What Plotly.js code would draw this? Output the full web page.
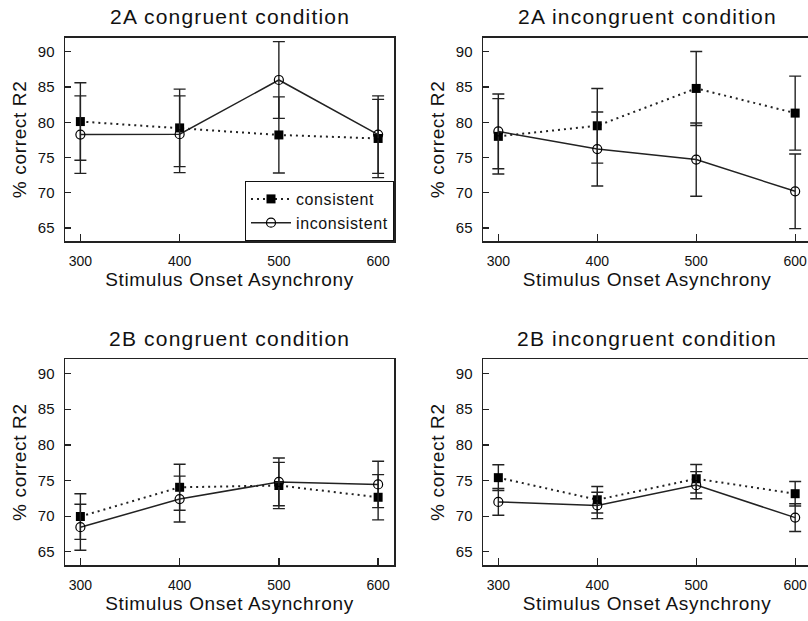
<!DOCTYPE html>
<html>
<head>
<meta charset="utf-8">
<script src="https://cdn.plot.ly/plotly-3.0.1.min.js"></script>
<style>
  html, body { margin: 0; padding: 0; overflow: hidden; background: #fff; }
  #chart { width: 830px; height: 621px; }
  .annotation-text { letter-spacing: 1.2px; }
  text[class$="title"] { letter-spacing: 0.65px; }
  .legendtext { letter-spacing: 0.6px; }
</style>
</head>
<body>
<div id="chart"></div>
<script>
// ---- data ----
const soa = [300, 400, 500, 600];
const xTicks = [300, 400, 500, 600];
const yTicks = [65, 70, 75, 80, 85, 90];

const panelTitles = ["2A congruent condition", "2A incongruent condition",
                     "2B congruent condition", "2B incongruent condition"];
const seriesNames = ["consistent", "inconsistent"];

const aCongCons = [80.1, 79.2, 78.2, 77.7];
const aCongConsErr = [5.5, 5.5, 5.4, 5.55];
const aCongInc = [78.25, 78.3, 86.0, 78.25];
const aCongIncErr = [5.5, 5.45, 5.45, 5.5];

const aIncCons = [78.0, 79.5, 84.8, 81.3];
const aIncConsErr = [5.35, 5.3, 5.25, 5.25];
const aIncInc = [78.7, 76.2, 74.7, 70.2];
const aIncIncErr = [5.3, 5.25, 5.2, 5.3];

const bCongCons = [69.95, 74.05, 74.3, 72.65];
const bCongConsErr = [3.2, 3.23, 3.25, 3.17];
const bCongInc = [68.45, 72.4, 74.8, 74.45];
const bCongIncErr = [3.23, 3.22, 3.35, 3.25];

const bIncCons = [75.4, 72.3, 75.25, 73.15];
const bIncConsErr = [1.8, 1.85, 2.0, 1.72];
const bIncInc = [72.0, 71.5, 74.35, 69.8];
const bIncIncErr = [1.87, 1.85, 1.9, 1.95];

const panels = [
  {cons: aCongCons, consErr: aCongConsErr, inc: aCongInc, incErr: aCongIncErr},
  {cons: aIncCons, consErr: aIncConsErr, inc: aIncInc, incErr: aIncIncErr},
  {cons: bCongCons, consErr: bCongConsErr, inc: bCongInc, incErr: bCongIncErr},
  {cons: bIncCons, consErr: bIncConsErr, inc: bIncInc, incErr: bIncIncErr}
];

// ---- layout geometry ----
const W = 830, H = 621;
const colX = [[65 / W, 394 / W], [483 / W, 811 / W]];
const rowY = [[(H - 241) / H, (H - 37.7) / H], [(H - 565) / H, (H - 359.3) / H]];
const titleY = [(H - 16.3) / H, (H - 338.3) / H];
const ink = "#222";

const traces = [];
panels.forEach((p, i) => {
  const ax = i === 0 ? "" : String(i + 1);
  const errStyle = {type: "data", visible: true, color: ink, thickness: 1.4, width: 6};
  traces.push({
    x: soa, y: p.cons, xaxis: "x" + ax, yaxis: "y" + ax,
    type: "scatter", mode: "lines+markers", name: seriesNames[0],
    showlegend: i === 0, legendgroup: "c",
    line: {color: ink, width: 2, dash: "2px,4px"},
    marker: {symbol: "square", size: 9, color: "#000"},
    error_y: Object.assign({array: p.consErr}, errStyle),
    cliponaxis: false
  });
  traces.push({
    x: soa, y: p.inc, xaxis: "x" + ax, yaxis: "y" + ax,
    type: "scatter", mode: "lines+markers", name: seriesNames[1],
    showlegend: i === 0, legendgroup: "i",
    line: {color: ink, width: 1.5},
    marker: {symbol: "circle-open", size: 9, color: "#000", line: {width: 1.2, color: "#000"}},
    error_y: Object.assign({array: p.incErr}, errStyle),
    cliponaxis: false
  });
});

const font = {family: "Liberation Sans, Arial, Helvetica, sans-serif", color: "#111"};
const layout = {
  width: W, height: H,
  margin: {l: 0, r: 0, t: 0, b: 0},
  paper_bgcolor: "#fff", plot_bgcolor: "#fff",
  font: Object.assign({size: 14}, font),
  showlegend: true,
  legend: {
    x: 394 / W, xanchor: "right", y: (H - 241) / H, yanchor: "bottom",
    bgcolor: "#fff", bordercolor: "#111", borderwidth: 1,
    font: Object.assign({size: 16}, font),
    itemwidth: 40,
    tracegroupgap: 0
  },
  annotations: []
};

panels.forEach((p, i) => {
  const ax = i === 0 ? "" : String(i + 1);
  const col = i % 2, row = Math.floor(i / 2);
  layout["xaxis" + ax] = {
    domain: colX[col], anchor: "y" + ax, range: [284.5, 616],
    tickvals: xTicks, ticktext: xTicks.map(String),
    ticks: "inside", ticklen: 7, tickwidth: 1.3, tickcolor: ink,
    showline: true, mirror: true, linecolor: ink, linewidth: 1.5,
    showgrid: false, zeroline: false, ticklabelstandoff: 7,
    tickfont: Object.assign({size: 14}, font),
    title: {text: "Stimulus Onset Asynchrony", font: Object.assign({size: 19}, font), standoff: 3}
  };
  layout["yaxis" + ax] = {
    domain: rowY[row], anchor: "x" + ax, range: [63.15, 92],
    tickvals: yTicks, ticktext: yTicks.map(String),
    ticks: "inside", ticklen: 6, tickwidth: 1.3, tickcolor: ink,
    showline: true, mirror: true, linecolor: ink, linewidth: 1.5,
    showgrid: false, zeroline: false, ticklabelstandoff: 6,
    tickfont: Object.assign({size: 15}, font),
    title: {text: "% correct R2", font: Object.assign({size: 19}, font), standoff: 6}
  };
  layout.annotations.push({
    text: panelTitles[i], showarrow: false,
    xref: "paper", yref: "paper",
    x: (colX[col][0] + colX[col][1]) / 2, xanchor: "center",
    y: titleY[row], yanchor: "middle",
    font: Object.assign({size: 21}, font)
  });
});

Plotly.newPlot("chart", traces, layout, {staticPlot: true, displayModeBar: false});
</script>
</body>
</html>
